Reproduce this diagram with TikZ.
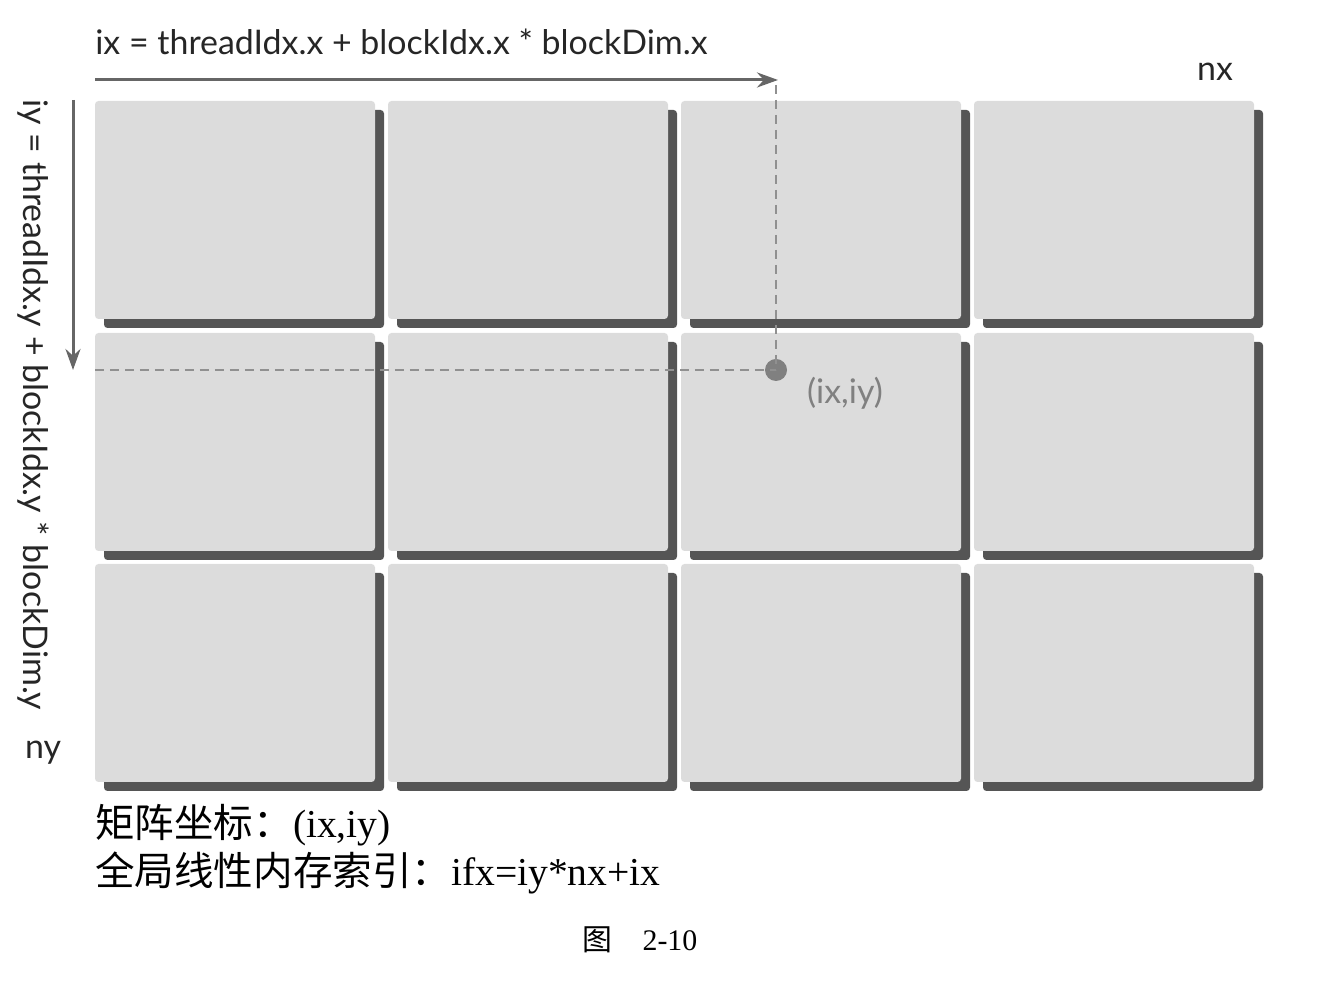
\documentclass[tikz,border=0pt]{standalone}
\usepackage{fontspec}
\setmainfont{Liberation Serif}
\newfontfamily\labelfont{Lato}
\newfontfamily\cjk{Noto Sans CJK SC}
\usepackage{xcolor}
\usetikzlibrary{shadows,arrows.meta}
\definecolor{cellgray}{HTML}{DCDCDC}
\definecolor{shadowgray}{HTML}{555555}
\definecolor{arrowgray}{HTML}{666666}
\definecolor{dashgray}{HTML}{909090}
\definecolor{dotgray}{HTML}{808080}
\tikzset{cell/.style={rectangle,fill=cellgray,minimum width=5.6cm,minimum height=4.36cm,inner sep=0pt,rounded corners=2pt,
    general shadow={fill=shadowgray,shadow xshift=0.18cm,shadow yshift=-0.18cm}},
  lbl/.style={font=\labelfont\fontsize{19.3}{23}\selectfont,text=black!85,inner sep=0pt},
  idx/.style={->,>={Stealth[length=0.42cm,width=0.3cm]},line width=0.06cm,arrowgray},
  guide/.style={dashed,dash pattern=on 0.18cm off 0.12cm,line width=0.03cm,dashgray}}

\begin{document}
\begin{tikzpicture}
    \useasboundingbox (0,0) rectangle (26.5,19.7);

    \node[cell] (c11) at (4.70,15.50) {};
    \node[cell] (c12) at (10.56,15.50) {};
    \node[cell] (c13) at (16.42,15.50) {};
    \node[cell] (c14) at (22.28,15.50) {};
    \node[cell] (c21) at (4.70,10.86) {};
    \node[cell] (c22) at (10.56,10.86) {};
    \node[cell] (c23) at (16.42,10.86) {};
    \node[cell] (c24) at (22.28,10.86) {};
    \node[cell] (c31) at (4.70,6.24) {};
    \node[cell] (c32) at (10.56,6.24) {};
    \node[cell] (c33) at (16.42,6.24) {};
    \node[cell] (c34) at (22.28,6.24) {};

    \coordinate (hstart) at (1.90,18.10);
    \coordinate (hend) at (15.56,18.10);
    \coordinate (vstart) at (1.46,17.70);
    \coordinate (vend) at (1.46,12.30);
    \coordinate (vtop) at (15.52,18.00);
    \coordinate (hleft) at (1.90,12.30);
    \node[circle,fill=dotgray,minimum size=0.44cm,inner sep=0pt] (p) at (15.52,12.30) {};

    \draw [guide] (vtop) to [] (p.center);
    \draw [guide] (hleft) to [] (p.center);
    \draw [idx] (hstart) to [] (hend);
    \draw [idx] (vstart) to [] (vend);

    \node[lbl,anchor=base west] (ixlbl) at (1.90,18.60) {ix = threadIdx.x + blockIdx.x * blockDim.x};
    \node[lbl,anchor=base west,rotate=-90] (iylbl) at (0.48,17.72) {iy = threadIdx.y + blockIdx.y * blockDim.y};
    \node[lbl] (nx) at (24.30,18.26) {nx};
    \node[lbl] (ny) at (0.86,4.64) {ny};
    \node[lbl,text=dotgray] (pt) at (16.90,11.84) {(ix,iy)};

    \node[anchor=west,inner sep=0pt,font=\fontsize{22.5}{27}\selectfont] (coord) at (1.90,3.20) {{\cjk 矩阵坐标：}(ix,iy)};
    \node[anchor=west,inner sep=0pt,font=\fontsize{22.5}{27}\selectfont] (linidx) at (1.90,2.24) {{\cjk 全局线性内存索引：}ifx=iy*nx+ix};
    \node[font=\fontsize{17}{20}\selectfont] (cap) at (12.80,0.90) {{\cjk 图}\hspace{0.6cm}2-10};
\end{tikzpicture}
\end{document}
